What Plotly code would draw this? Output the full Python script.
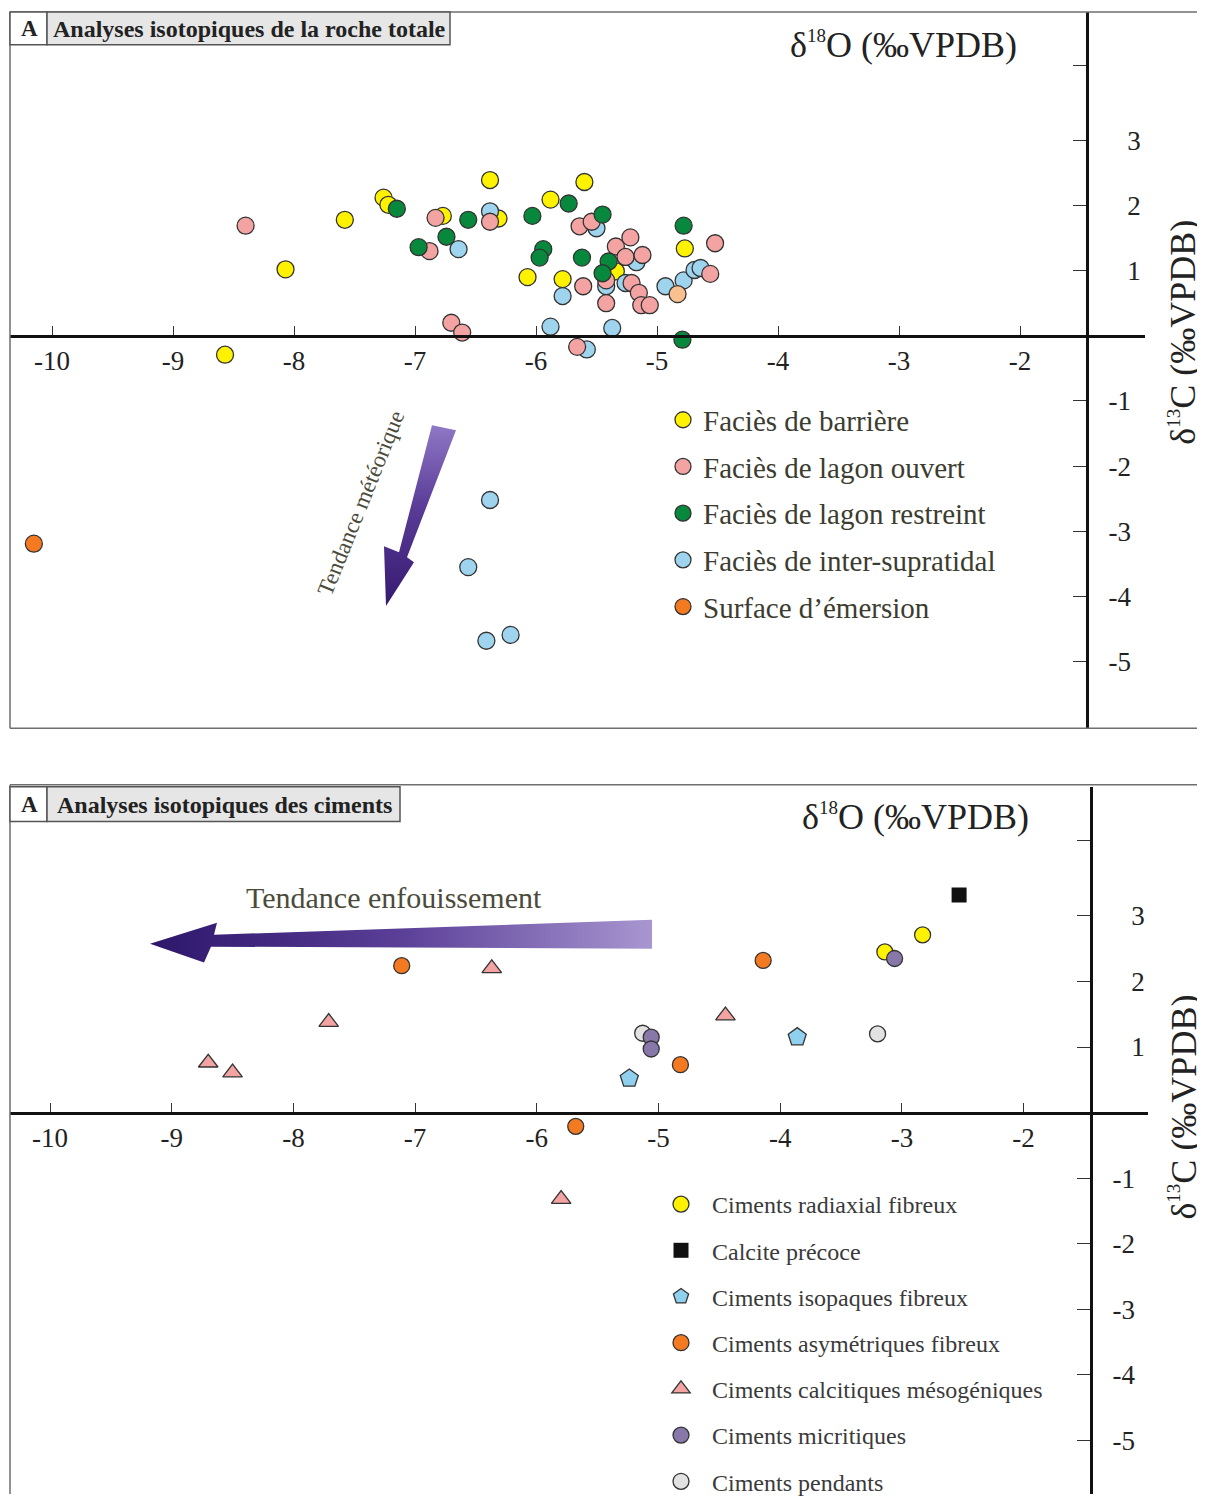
import plotly.graph_objects as go

# ---------------- DATA ----------------
# Panel 1 : whole-rock isotopes  (d18O, d13C)
barriere_x = [-8.57, -8.07, -7.58, -7.26, -7.22, -6.77, -6.38, -6.31, -5.88, -5.60, -6.07, -5.78, -5.34, -4.77]
barriere_y = [-0.29, 1.02, 1.78, 2.12, 2.01, 1.84, 2.39, 1.80, 2.09, 2.36, 0.90, 0.87, 0.99, 1.34]

lagon_ouvert_x = [-8.40, -6.83, -6.88, -6.70, -6.61, -6.38, -5.64, -5.54, -5.22, -5.34, -5.26, -5.12,
                  -5.61, -5.42, -5.42, -5.21, -5.15, -5.13, -5.06, -4.56, -4.52, -5.66]
lagon_ouvert_y = [1.69, 1.81, 1.30, 0.20, 0.05, 1.75, 1.68, 1.75, 1.51, 1.37, 1.21, 1.24,
                  0.76, 0.85, 0.50, 0.81, 0.66, 0.47, 0.47, 0.95, 1.42, -0.17]

lagon_restreint_x = [-7.15, -6.56, -6.74, -6.97, -6.03, -5.73, -5.45, -5.94, -5.97, -5.62, -5.40, -5.45, -4.78, -4.79]
lagon_restreint_y = [1.95, 1.78, 1.52, 1.36, 1.84, 2.03, 1.86, 1.33, 1.20, 1.20, 1.14, 0.96, 1.69, -0.06]

supratidal_x = [-6.64, -6.38, -5.78, -5.50, -5.42, -5.26, -5.17, -4.93, -4.78, -4.69, -4.64,
                -5.88, -5.37, -5.58, -6.38, -6.56, -6.41, -6.21]
supratidal_y = [1.33, 1.91, 0.61, 1.65, 0.76, 0.81, 1.13, 0.76, 0.85, 1.01, 1.04,
                0.14, 0.12, -0.21, -2.52, -3.55, -4.68, -4.59]

emersion_x = [-10.15]
emersion_y = [-3.19]
emersion_pale_x = [-4.83]
emersion_pale_y = [0.64]

# Panel 2 : cements
radiaxial_x = [-3.14, -2.83]
radiaxial_y = [2.45, 2.71]
calcite_precoce_x = [-2.53]
calcite_precoce_y = [3.32]
isopaques_x = [-5.24, -3.86]
isopaques_y = [0.52, 1.15]
asymetriques_x = [-7.11, -5.68, -4.82, -4.14]
asymetriques_y = [2.24, -0.21, 0.73, 2.32]
mesogeniques_x = [-8.70, -8.50, -7.71, -6.37, -5.80, -4.45]
mesogeniques_y = [0.76, 0.61, 1.38, 2.20, -1.32, 1.48]
micritiques_x = [-3.06, -5.06, -5.06]
micritiques_y = [2.35, 1.15, 0.97]
pendants_x = [-5.13, -3.20]
pendants_y = [1.21, 1.20]

x_ticks = [-10, -9, -8, -7, -6, -5, -4, -3, -2]
x_ticktext = ["-10", "-9", "-8", "-7", "-6", "-5", "-4", "-3", "-2"]
y_ticks = [-5, -4, -3, -2, -1, 1, 2, 3, 4.15]
y_ticktext = ["-5", "-4", "-3", "-2", "-1", " \u2009 1", " \u2009 2", " \u2009 3", " "]

# ---------------- LAYOUT GEOMETRY (pixels of the reference) ----------------
OFF = 8                      # page body margin
W, H = 1205 - OFF, 1512 - 2 * OFF
SERIF = "Liberation Serif"
INK = "#222222"
FRAME = "#6e6e6e"

# pixel calibration of each panel: x pixel of -10, px per unit, y pixel of 0, px per unit
P1 = dict(x0=52, sx=121.0, y0=338, sy=65.6, left=10, right=1145, top=12, bottom=733, vax=1087)
P2 = dict(x0=50, sx=121.7, y0=1120, sy=66.0, left=10, right=1148, top=792, bottom=OFF + H, vax=1091)


def px2x(p, px):
    return -10 + (px - p["x0"]) / p["sx"]


def px2y(p, py):
    return (p["y0"] - py) / p["sy"]


def fx(px):
    return (px - OFF) / W


def fy(py):
    return 1 - (py - OFF) / H


fig = go.Figure()

MLINE = dict(color="#333333", width=1.3)


def add(name, xs, ys, color, xa, ya, legend, rank, symbol="circle", size=17, line=MLINE, showlegend=True):
    fig.add_trace(go.Scatter(
        x=xs, y=ys, mode="markers", name=name, xaxis=xa, yaxis=ya,
        marker=dict(color=color, size=size, symbol=symbol, line=line),
        legend=legend, legendgroup=name, legendrank=rank, showlegend=showlegend,
        hoverinfo="x+y+name"))


# decorative arrows (drawn first, beneath points)
arrow1 = [(432, 428), (456, 433), (407, 561), (414, 566), (386, 610), (384, 550), (399, 556)]
fig.add_trace(go.Scatter(
    x=[px2x(P1, a) for a, b in arrow1] + [px2x(P1, arrow1[0][0])],
    y=[px2y(P1, b) for a, b in arrow1] + [px2y(P1, arrow1[0][1])],
    xaxis="x", yaxis="y", mode="lines", line=dict(width=0), fill="toself",
    fillgradient=dict(type="vertical", colorscale=[[0, "#36196f"], [0.55, "#5a3c98"], [1, "#8f78c4"]]),
    showlegend=False, hoverinfo="skip"))

arrow2 = [(652, 926), (652, 955), (211, 953), (204, 969), (150, 950), (217, 929), (214, 941)]
fig.add_trace(go.Scatter(
    x=[px2x(P2, a) for a, b in arrow2] + [px2x(P2, arrow2[0][0])],
    y=[px2y(P2, b) for a, b in arrow2] + [px2y(P2, arrow2[0][1])],
    xaxis="x2", yaxis="y2", mode="lines", line=dict(width=0), fill="toself",
    fillgradient=dict(type="horizontal", colorscale=[[0, "#2c166a"], [0.5, "#5b3f98"], [1, "#a896d0"]]),
    showlegend=False, hoverinfo="skip"))

# panel 1 data
add("Faciès de barrière", barriere_x, barriere_y, "#fff200", "x", "y", "legend", 1)
add("Faciès de inter-supratidal", supratidal_x, supratidal_y, "#9fd4ee", "x", "y", "legend", 4)
add("Faciès de lagon ouvert", lagon_ouvert_x, lagon_ouvert_y, "#f4a3a3", "x", "y", "legend", 2)
add("Faciès de lagon restreint", lagon_restreint_x, lagon_restreint_y, "#07883c", "x", "y", "legend", 3)
add("Surface d’émersion", emersion_x, emersion_y, "#f47a22", "x", "y", "legend", 5)
add("Surface d’émersion (pâle)", emersion_pale_x, emersion_pale_y, "#f9c18f", "x", "y", "legend", 6,
    showlegend=False)

# panel 2 data
add("Ciments radiaxial fibreux", radiaxial_x, radiaxial_y, "#fff200", "x2", "y2", "legend2", 1, size=16)
add("Calcite précoce", calcite_precoce_x, calcite_precoce_y, "#111111", "x2", "y2", "legend2", 2,
    symbol="square", size=15, line=dict(color="#111111", width=0))
add("Ciments isopaques fibreux", isopaques_x, isopaques_y, "#8fd0ee", "x2", "y2", "legend2", 3,
    symbol="pentagon", size=19)
add("Ciments asymétriques fibreux", asymetriques_x, asymetriques_y, "#f47a22", "x2", "y2", "legend2", 4, size=16)
add("Ciments calcitiques mésogéniques", mesogeniques_x, mesogeniques_y, "#f4a3a3", "x2", "y2", "legend2", 5,
    symbol="triangle-up", size=17)
add("Ciments pendants", pendants_x, pendants_y, "#e2e2e2", "x2", "y2", "legend2", 7, size=16)
add("Ciments micritiques", micritiques_x, micritiques_y, "#8878aa", "x2", "y2", "legend2", 6, size=16)


def xaxis_cfg(p):
    return dict(
        domain=[fx(p["left"]), fx(p["right"])],
        range=[px2x(p, p["left"]), px2x(p, p["right"])],
        anchor="free", position=fy(p["y0"]),
        showline=True, linecolor="#111111", linewidth=3,
        ticks="inside", ticklen=9, tickwidth=1.4, tickcolor="#333333",
        tickmode="array", tickvals=x_ticks, ticktext=x_ticktext,
        tickfont=dict(family=SERIF, size=27, color=INK),
        showgrid=False, zeroline=False, fixedrange=True)


def yaxis_cfg(p):
    return dict(
        domain=[fy(p["bottom"]), fy(p["top"])],
        range=[px2y(p, p["bottom"]), px2y(p, p["top"])],
        anchor="free", position=fx(p["vax"]), side="right",
        showline=True, linecolor="#111111", linewidth=3,
        ticks="inside", ticklen=13, tickwidth=1.4, tickcolor="#333333",
        tickmode="array", tickvals=y_ticks, ticktext=y_ticktext,
        ticklabelstandoff=14,
        tickfont=dict(family=SERIF, size=27, color=INK),
        showgrid=False, zeroline=False, fixedrange=True)


shapes = []


def line(x0, y0, x1, y1, color=FRAME, width=1.5):
    shapes.append(dict(type="line", xref="paper", yref="paper",
                       x0=fx(x0), y0=fy(y0), x1=fx(x1), y1=fy(y1),
                       line=dict(color=color, width=width)))


def rect(x0, y0, x1, y1, fill):
    shapes.append(dict(type="rect", xref="paper", yref="paper",
                       x0=fx(x0), y0=fy(y0), x1=fx(x1), y1=fy(y1),
                       fillcolor=fill, line=dict(color="#555555", width=1.5)))


# frames
line(10, 12, 1205, 12)
line(10, 12, 10, 733)
line(10, 733, 1205, 733)
line(10, 790, 1205, 790)
line(10, 790, 10, OFF + H)

# title boxes
rect(10, 12, 47, 45, "#ffffff")
rect(47, 12, 450, 45, "#e6e6e6")
rect(10, 792, 47, 827, "#ffffff")
rect(47, 792, 400, 827, "#e6e6e6")

annotations = []


def text(px, py, s, size, color=INK, bold=False, angle=0, xanchor="center"):
    annotations.append(dict(
        xref="paper", yref="paper", x=fx(px), y=fy(py), text=f"<b>{s}</b>" if bold else s,
        showarrow=False, textangle=angle, xanchor=xanchor, yanchor="middle",
        font=dict(family=SERIF, size=size, color=color)))


SUP = "<sup><span style='font-size:19px'>{}</span></sup>"
text(29, 29, "A", 23, bold=True)
text(249, 29, "Analyses isotopiques de la roche totale", 24, bold=True)
text(29, 810, "A", 23, bold=True)
text(224, 810, "Analyses isotopiques des ciments", 24, bold=True)

text(903, 45, "δ" + SUP.format("18") + "O (‰VPDB)", 36)
text(915, 822, "δ" + SUP.format("18") + "O (‰VPDB)", 36)
text(1183, 335, "δ" + SUP.format("13") + "C (‰VPDB)", 36, angle=-90)
text(1183, 1115, "δ" + SUP.format("13") + "C (‰VPDB)", 36, angle=-90)

text(361, 507, "Tendance météorique", 23, color="#4b4b3c", angle=-68)
text(394, 903, "Tendance enfouissement", 30, color="#4b4b3c")

fig.update_layout(
    width=W, height=H,
    margin=dict(l=0, r=0, t=0, b=0),
    paper_bgcolor="white", plot_bgcolor="rgba(0,0,0,0)",
    xaxis=xaxis_cfg(P1), yaxis=yaxis_cfg(P1),
    xaxis2=xaxis_cfg(P2), yaxis2=yaxis_cfg(P2),
    shapes=shapes, annotations=annotations,
    showlegend=True,
    legend=dict(x=fx(663), y=fy(397), xanchor="left", yanchor="top",
                bgcolor="rgba(0,0,0,0)", borderwidth=0,
                font=dict(family=SERIF, size=29, color="#3c3c30"),
                tracegroupgap=6, itemwidth=30, traceorder="grouped"),
    legend2=dict(x=fx(650), y=fy(1190), xanchor="left", yanchor="top",
                 bgcolor="rgba(0,0,0,0)", borderwidth=0,
                 font=dict(family=SERIF, size=24, color="#3a3a3a"),
                 tracegroupgap=12, itemwidth=52, traceorder="grouped"),
)

fig.write_html("out.html")
